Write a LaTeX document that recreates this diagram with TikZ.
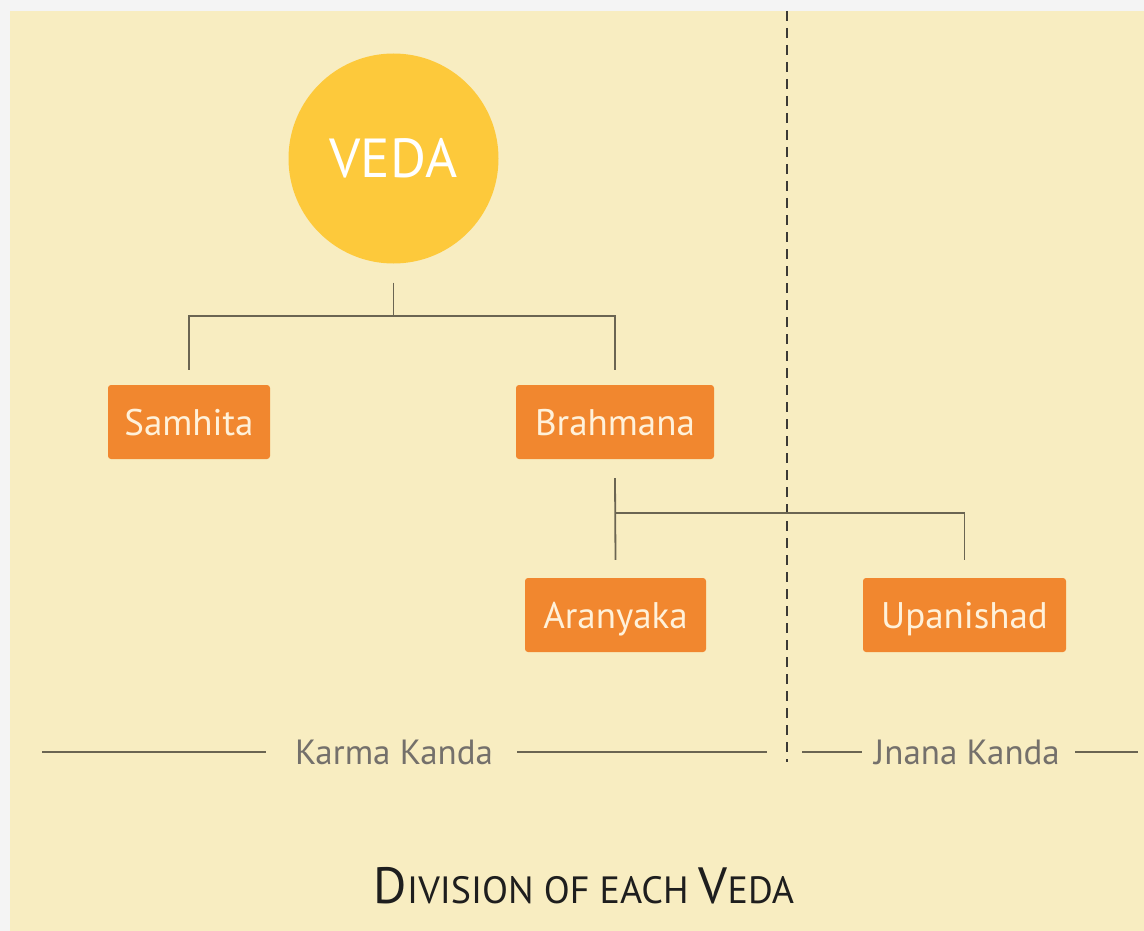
\documentclass[tikz,border=0pt]{standalone}
\usepackage{fontspec}
\setmainfont{PT Sans}
\usetikzlibrary{calc}
\definecolor{bggrey}{HTML}{F4F4F4}
\definecolor{cream}{HTML}{F8EDC1}
\definecolor{sun}{HTML}{FDC93B}
\definecolor{boxorange}{HTML}{F1872F}
\definecolor{boxtext}{HTML}{FFF1DA}
\definecolor{linecol}{HTML}{6B6552}
\definecolor{dashcol}{HTML}{3C3A36}
\definecolor{labelgrey}{HTML}{74706B}
\definecolor{titlecol}{HTML}{1E1E1E}
\begin{document}
\begin{tikzpicture}[x=1pt,y=-1pt,
  partbox/.style={rectangle, rounded corners=3pt, fill=boxorange, text=boxtext,
    font=\fontsize{37}{37}\selectfont, minimum height=74pt, inner sep=0pt,
    text height=26pt, text depth=0pt},
  conn/.style={draw=linecol, line width=1.8pt},
  kandaline/.style={draw=linecol, line width=1.7pt},
  kandalabel/.style={text=labelgrey, font=\fontsize{35}{35}\selectfont, anchor=base, inner sep=0pt},
  divider/.style={draw=dashcol, line width=1.4pt, dash pattern=on 10pt off 7pt}
]
\fill[bggrey] (0,0) rectangle (1144,931);
\fill[cream] (10,11) rectangle (1144,931);
\useasboundingbox (0,0) rectangle (1144,931);

% divider
\coordinate (dtop) at (787,11);
\coordinate (dbot) at (787,762);
\draw[divider] (dtop) -- (dbot);

% nodes
\node[circle, fill=sun, minimum size=210pt, inner sep=0pt, text=white,
  font=\fontsize{55}{55}\selectfont, text height=38pt, text depth=0pt] (veda) at (393.5,158.5) {VEDA};
\node[partbox, minimum width=162pt] (samhita) at (189,422) {Samhita};
\node[partbox, minimum width=198pt] (brahmana) at (615,422) {Brahmana};
\node[partbox, minimum width=181pt] (aranyaka) at (615.5,615) {Aranyaka};
\node[partbox, minimum width=203pt] (upanishad) at (964.5,615) {Upanishad};

% connectors
\coordinate (vtop) at ($(veda.south)+(0,19)$);
\coordinate (vbus) at ($(veda.south)+(0,52)$);
\draw[conn] (vtop) -- (vbus);
\draw[conn] ($(samhita.north)+(0,-15)$) |- (vbus) -| ($(brahmana.north)+(0,-15)$);
\coordinate (btop) at ($(brahmana.south)+(0,19)$);
\coordinate (bbus) at ($(brahmana.south)+(0,54)$);
\draw[conn] (btop) -- ($(aranyaka.north)+(0,-18)$);
\draw[conn] (bbus) -| ($(upanishad.north)+(0,-18)$);

% kanda labels
\node[kandalabel] (karma) at (394,764) {Karma Kanda};
\node[kandalabel] (jnana) at (967,764) {Jnana Kanda};
\coordinate (k1) at (42,752);
\coordinate (k2) at (266,752);
\coordinate (k3) at (517,752);
\coordinate (k4) at (767,752);
\coordinate (j1) at (802,752);
\coordinate (j2) at (862,752);
\coordinate (j3) at (1075,752);
\coordinate (j4) at (1138,752);
\draw[kandaline] (k1) -- (k2);
\draw[kandaline] (k3) -- (k4);
\draw[kandaline] (j1) -- (j2);
\draw[kandaline] (j3) -- (j4);

% title
\node[text=titlecol, anchor=base, inner sep=0pt] (title) at (584,903)
  {{\fontsize{51}{51}\selectfont D}{\fontsize{38}{38}\selectfont IVISION OF EACH }{\fontsize{51}{51}\selectfont V}{\fontsize{38}{38}\selectfont EDA}};
\end{tikzpicture}
\end{document}
